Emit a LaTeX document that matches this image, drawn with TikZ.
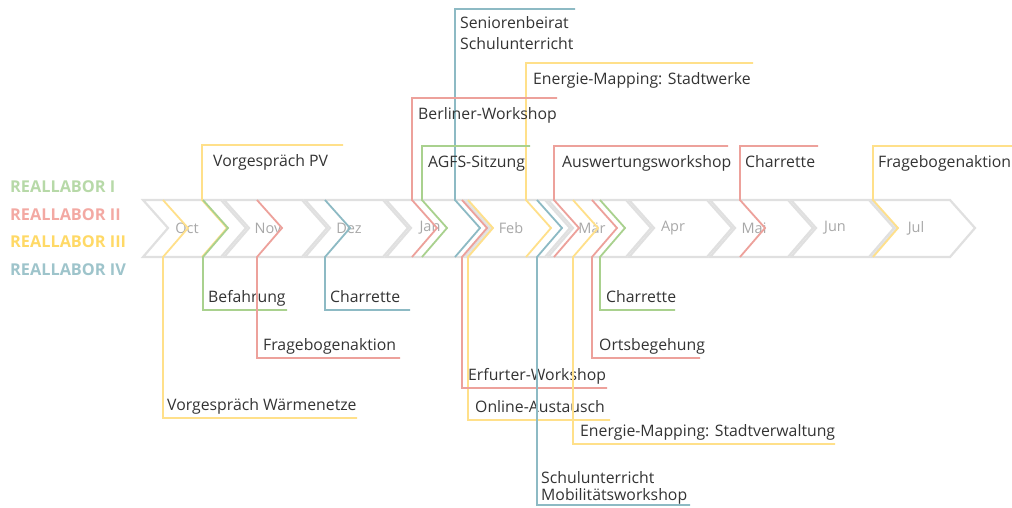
\documentclass[tikz,border=0pt]{standalone}
\usepackage{fontspec}
\setmainfont{Open Sans}
\definecolor{cgreen}{HTML}{A9D18E}
\definecolor{cred}{HTML}{EDA19B}
\definecolor{cyellow}{HTML}{FFE08A}
\definecolor{cteal}{HTML}{8DBAC4}
\definecolor{lgreen}{HTML}{B7D9A8}
\definecolor{lred}{HTML}{F3A9A3}
\definecolor{lyellow}{HTML}{FFD966}
\definecolor{lteal}{HTML}{9EC4CB}
\definecolor{chevgray}{HTML}{E0E0E0}
\definecolor{monthgray}{HTML}{A8A8A8}
\definecolor{txt}{HTML}{333333}
\tikzset{
  chev/.style={draw=chevgray,line width=2.2pt,fill=white,line join=miter},
  month/.style={text=monthgray,font=\fontsize{14.5}{16}\selectfont,inner sep=0pt},
  evline/.style={line width=1.8pt,line join=miter},
  lbl/.style={text=txt,font=\fontsize{15.8}{18}\selectfont,inner sep=0pt,anchor=base west},
  legend/.style={font=\bfseries\fontsize{16.3}{18}\selectfont,inner sep=0pt,anchor=base west}
}
% x, ytop, xend, colour, name, text, dx
\newcommand\topev[7]{%
  \draw[evline,draw=#4] (#3,#2) -- (#1,#2) -- (#1,200) -- ++(25,28) -- (#1,257);
  \node[lbl] (#5) at (#1+#7,#2+21) {#6};
}
% x, ybot, xend, colour, name, text, dx
\newcommand\botev[7]{%
  \draw[evline,draw=#4] (#1,200) -- ++(25,28) -- (#1,257) -- (#1,#2) -- (#3,#2);
  \node[lbl] (#5) at (#1+#7,#2-8) {#6};
}
\begin{document}
\begin{tikzpicture}[x=1pt,y=-1pt]
\useasboundingbox (0,0) rectangle (1012,507);
% legend
\node[legend,text=lgreen] (l1) at (10,192) {REALLABOR I};
\node[legend,text=lred] (l2) at (10,220) {REALLABOR II};
\node[legend,text=lyellow] (l3) at (10,247) {REALLABOR III};
\node[legend,text=lteal] (l4) at (10,275) {REALLABOR IV};
% chevrons
\foreach \m [count=\i from 0] in {Oct,Nov,Dez,Jan,Feb,Mär,Apr,Mai,Jun,Jul} {
  \pgfmathsetmacro\xo{143+81*\i}
  \draw[chev] (\xo,200) -- ++(78,0) -- ++(25,28) -- ++(-25,29) -- ++(-78,0) -- ++(25,-29) -- cycle;
  \node[month] (m\i) at (\xo+44,228) {\m};
}
% top events
\topev{202}{145}{343}{cyellow}{pv}{Vorgespräch PV}{11}
\draw[evline,draw=cteal] (575,9) -- (455,9) -- (455,200) -- ++(25,28) -- (455,257);
\node[lbl] (sen1) at (460,28) {Seniorenbeirat};
\node[lbl] (sen2) at (460,49) {Schulunterricht};
\topev{526}{63}{753}{cyellow}{emsw}{Energie-Mapping: Stadtwerke}{7}
\topev{412}{98}{557}{cred}{berlin}{Berliner-Workshop}{6}
\topev{422}{146}{530}{cgreen}{agfs}{AGFS-Sitzung}{6}
\topev{554}{146}{728}{cred}{ausw}{Auswertungsworkshop}{8}
\topev{740}{146}{818}{cred}{charr2}{Charrette}{5}
\topev{873}{146}{1012}{cyellow}{frag2}{Fragebogenaktion}{5}
% bottom events
\botev{163}{418}{357}{cyellow}{vgw}{Vorgespräch Wärmenetze}{4}
\botev{203}{310}{287}{cgreen}{befahrung}{Befahrung}{5}
\botev{257}{358}{400}{cred}{frag1}{Fragebogenaktion}{6}
\botev{325}{310}{410}{cteal}{charr1}{Charrette}{5}
\botev{468}{420}{610}{cyellow}{online}{Online-Austausch}{7}
\botev{462}{388}{607}{cred}{erfurt}{Erfurter-Workshop}{6}
\draw[evline,draw=cteal] (537,200) -- ++(25,28) -- (537,257) -- (537,505) -- (690,505);
\node[lbl] (schu1) at (541,483) {Schulunterricht};
\node[lbl] (schu2) at (541,500) {Mobilitätsworkshop};
\botev{573}{444}{835}{cyellow}{emsv}{Energie-Mapping: Stadtverwaltung}{7}
\botev{592}{358}{700}{cred}{orts}{Ortsbegehung}{7}
\botev{600}{310}{675}{cgreen}{charr3}{Charrette}{6}
\end{tikzpicture}
\end{document}
